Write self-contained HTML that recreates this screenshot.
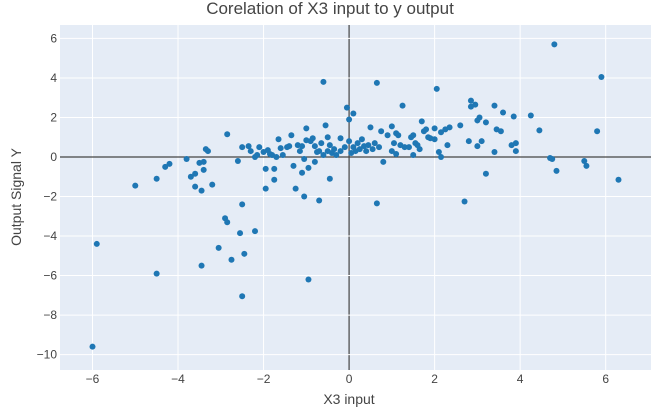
<!DOCTYPE html>
<html><head><meta charset="utf-8"><style>
body{margin:0;background:#fff;}
svg{display:block;font-family:"Liberation Sans",sans-serif;}
</style></head><body>
<svg id="chart" width="661" height="409">
<rect x="0" y="0" width="661" height="409" fill="#fff"/>
<rect id="plotbg" fill="#e5ecf6"/>
<g id="grid"></g>
<g id="points"></g>
<text x="330" y="14" text-anchor="middle" font-size="17" fill="#444">Corelation of X3 input to y output</text>
<text x="349" y="404" text-anchor="middle" font-size="14" fill="#444">X3 input</text>
<text x="0" y="0" transform="translate(21,197) rotate(-90)" text-anchor="middle" font-size="14" fill="#444">Output Signal Y</text>
</svg>
<script>
const xTicks=[-6,-4,-2,0,2,4,6];
const yTicks=[6,4,2,0,-2,-4,-6,-8,-10];
const xs=[-6.0,-5.9,-5.0,-4.5,-4.5,-4.3,-4.2,-3.8,-3.7,-3.6,-3.6,-3.5,-3.45,-3.45,-3.4,-3.4,-3.35,-3.3,-3.2,-3.05,-2.9,-2.85,-2.85,-2.75,-2.6,-2.55,-2.5,-2.5,-2.5,-2.45,-2.35,-2.3,-2.2,-2.2,-2.15,-2.1,-2.0,-1.95,-1.95,-1.9,-1.85,-1.8,-1.75,-1.75,-1.7,-1.65,-1.6,-1.55,-1.45,-1.4,-1.35,-1.3,-1.25,-1.2,-1.15,-1.1,-1.1,-1.05,-1.05,-1.0,-1.0,-0.95,-0.95,-0.9,-0.85,-0.8,-0.8,-0.75,-0.7,-0.7,-0.65,-0.6,-0.6,-0.55,-0.5,-0.5,-0.45,-0.45,-0.4,-0.35,-0.3,-0.2,-0.2,-0.1,-0.05,0.0,0.0,0.05,0.1,0.1,0.15,0.2,0.25,0.3,0.35,0.4,0.45,0.5,0.55,0.6,0.65,0.65,0.7,0.75,0.8,0.9,1.0,1.0,1.05,1.1,1.1,1.15,1.2,1.25,1.3,1.4,1.45,1.5,1.5,1.55,1.6,1.65,1.7,1.75,1.8,1.85,1.9,2.0,2.0,2.05,2.1,2.15,2.15,2.25,2.3,2.35,2.6,2.7,2.8,2.85,2.85,2.95,3.0,3.0,3.05,3.1,3.2,3.2,3.4,3.4,3.45,3.55,3.6,3.8,3.85,3.9,3.9,4.25,4.45,4.7,4.75,4.8,4.85,5.5,5.55,5.8,5.9,6.3];
const ys=[-9.6,-4.4,-1.45,-1.1,-5.9,-0.5,-0.35,-0.1,-1.0,-1.5,-0.85,-0.3,-5.5,-1.7,-0.25,-0.65,0.4,0.3,-1.4,-4.6,-3.1,-3.3,1.15,-5.2,-0.2,-3.85,-2.4,0.5,-7.05,-4.9,0.55,0.3,0.0,-3.75,0.1,0.5,0.25,-1.6,-0.6,0.35,0.15,0.1,-1.15,-0.6,0.0,0.9,0.45,0.1,0.5,0.55,1.1,-0.45,-1.6,0.6,0.3,-0.8,0.55,-0.1,-2.0,0.85,1.45,-6.2,-0.55,0.8,0.95,0.55,-0.25,0.25,-2.2,0.3,0.7,3.8,0.1,1.6,0.3,1.0,-1.1,0.6,0.2,0.4,0.1,0.95,0.3,0.5,2.5,1.9,0.8,0.2,2.2,0.5,0.3,0.7,0.4,0.9,0.55,0.3,0.6,1.5,0.4,0.7,3.75,-2.35,0.5,1.3,-0.25,1.1,0.3,1.55,0.7,0.15,1.2,1.1,0.6,2.6,0.5,0.5,1.0,1.1,0.1,0.7,0.6,0.4,1.8,1.3,1.4,1.0,0.95,0.9,1.45,3.45,0.25,1.25,0.0,1.4,0.6,1.5,1.6,-2.25,0.8,2.55,2.85,2.65,0.55,1.85,2.0,0.8,-0.85,1.75,2.6,0.25,1.4,1.3,2.25,0.6,2.05,0.7,0.3,2.1,1.35,-0.05,-0.1,5.7,-0.7,-0.2,-0.45,1.3,4.05,-1.15];
const L=60,R=651,T=25,B=370,xMin=-6.76,xMax=7.06,yMin=-10.78,yMax=6.68;
const sx=v=>L+(v-xMin)/(xMax-xMin)*(R-L);
const sy=v=>B-(v-yMin)/(yMax-yMin)*(B-T);
const NS="http://www.w3.org/2000/svg";
const bg=document.getElementById('plotbg');
bg.setAttribute('x',L);bg.setAttribute('y',T);bg.setAttribute('width',R-L);bg.setAttribute('height',B-T);
const grid=document.getElementById('grid');
function mk(tag,attrs,parent){const e=document.createElementNS(NS,tag);for(const k in attrs)e.setAttribute(k,attrs[k]);parent.appendChild(e);return e;}
xTicks.forEach(t=>{
  const l=mk('line',{x1:sx(t),x2:sx(t),y1:T,y2:B,stroke:t===0?'#444':'#fff','stroke-width':t===0?1.2:1},grid);
  
  
  const tx=mk('text',{x:sx(t),y:B+13,'text-anchor':'middle','font-size':12,fill:'#444'},grid);
  tx.textContent=t<0?'\u2212'+(-t):t;
  
  
});
yTicks.forEach(t=>{
  const l=mk('line',{x1:L,x2:R,y1:sy(t),y2:sy(t),stroke:t===0?'#444':'#fff','stroke-width':t===0?1.2:1},grid);
  
  
  const tx=mk('text',{x:L-3,y:sy(t)+4,'text-anchor':'end','font-size':12,fill:'#444'},grid);
  tx.textContent=t<0?'\u2212'+(-t):t;
  
  
});
const pts=document.getElementById('points');
xs.forEach((x,i)=>{
  const c=mk('circle',{cx:sx(x),cy:sy(ys[i]),r:3,fill:'#1f77b4'},pts);
  
  
});
</script>
</body></html>
